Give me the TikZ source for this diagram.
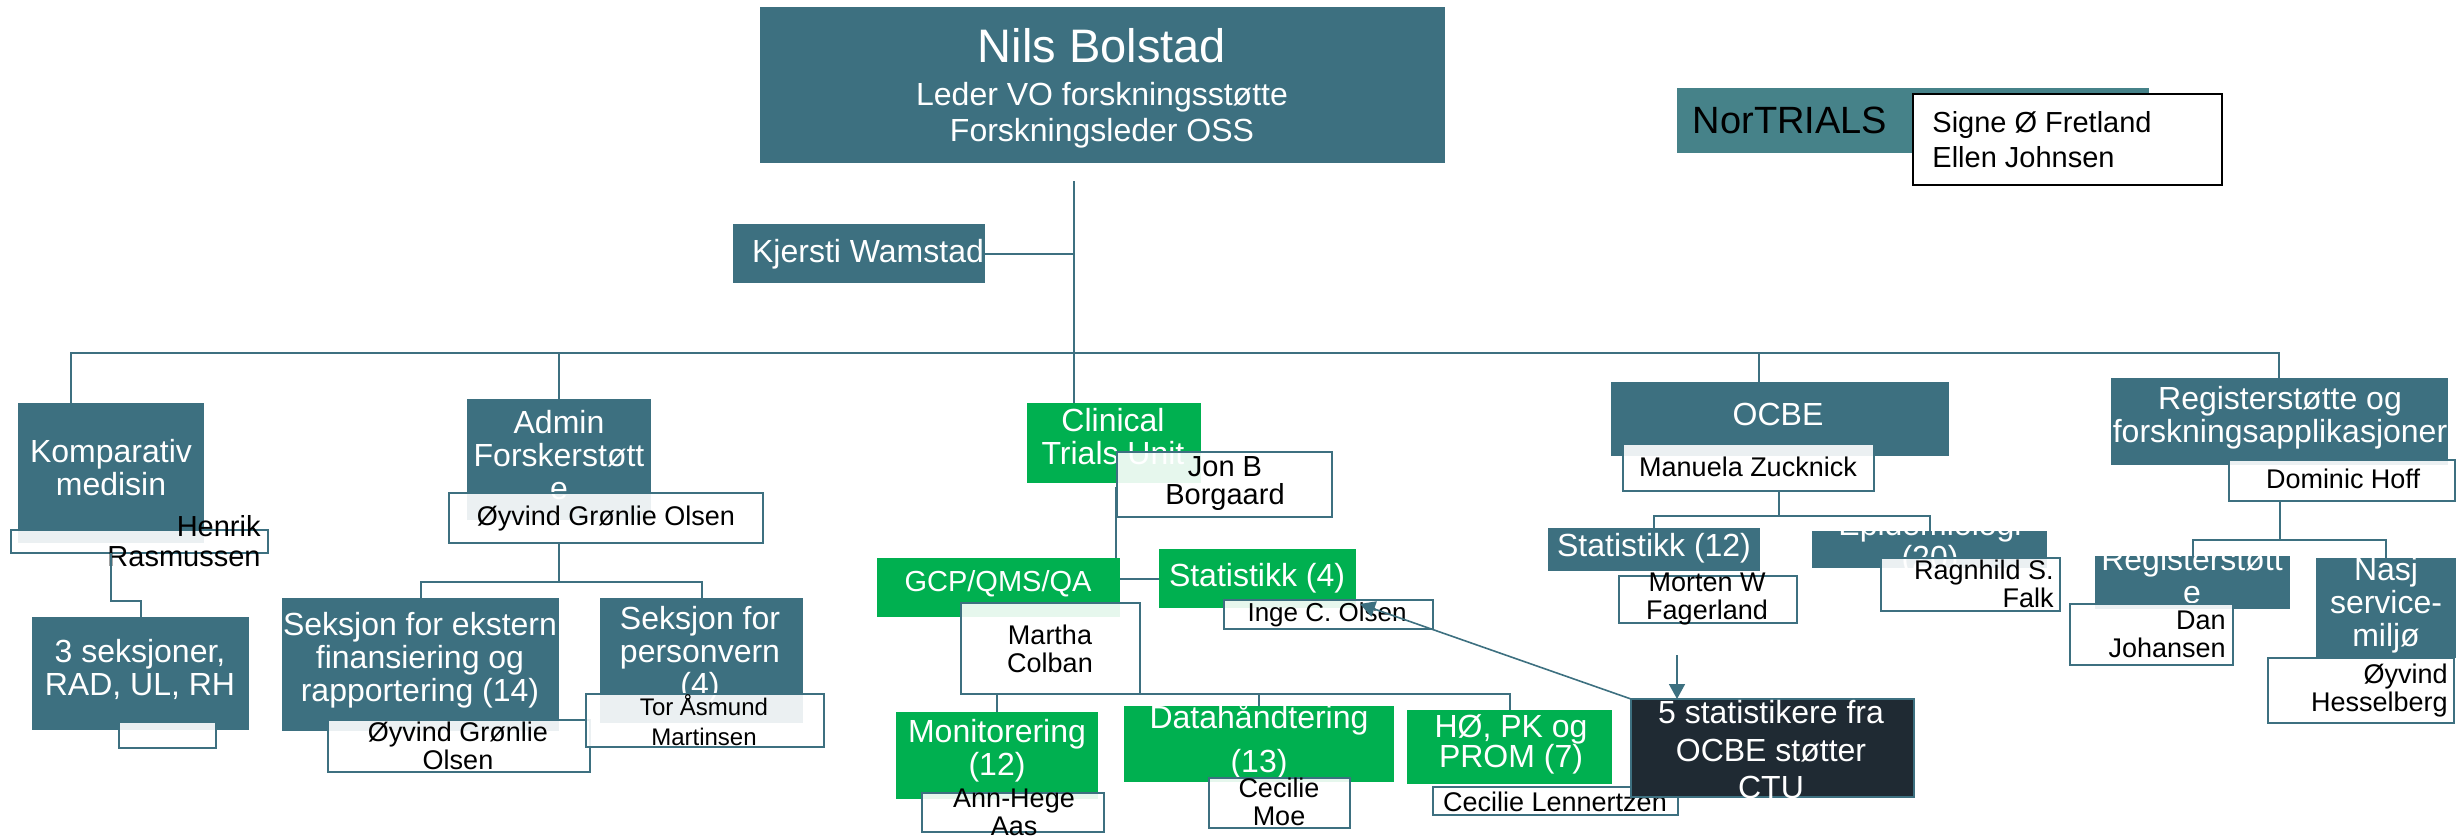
\documentclass[tikz,border=0pt]{standalone}
\usepackage{fontspec}
\setmainfont{Liberation Sans}
\usetikzlibrary{arrows.meta}
\definecolor{tealA}{HTML}{3D7080}
\definecolor{tealB}{HTML}{468289}
\definecolor{grnA}{HTML}{00B050}
\definecolor{darkA}{HTML}{1F2A33}
\newcommand\bx[6]{\node[#6, minimum width={(#4-#2)*0.5pt}, minimum height={(#5-#3)*0.5pt}] (#1) at ({(#2+#4)/2},{(#3+#5)/2}) {};}
\tikzset{
  unitbox/.style={fill=tealA, inner sep=0pt, outer sep=0pt},
  nortbox/.style={fill=tealB, inner sep=0pt, outer sep=0pt},
  greenbox/.style={fill=grnA, inner sep=0pt, outer sep=0pt},
  darkbox/.style={fill=darkA, draw=tealA, line width=0.7pt, inner sep=0pt, outer sep=0pt},
  namebox/.style={fill=white, fill opacity=0.9, draw=tealA, draw opacity=1, line width=1pt, inner sep=0pt, outer sep=0pt},
  blackbox/.style={fill=white, draw=black, line width=1pt, inner sep=0pt, outer sep=0pt},
  sec/.style={text=white, align=center, inner sep=0pt, font=\fontsize{16}{16.5}\selectfont},
  nm/.style={text=black, align=center, inner sep=0pt, font=\fontsize{13.5}{14}\selectfont},
  conn/.style={draw=tealA, line width=1pt},
  arr/.style={draw=tealA, line width=0.8pt, -{Triangle[length=7.5pt,width=8pt]}, fill=tealA},
}
\begin{document}
\begin{tikzpicture}[x=0.5pt,y=-0.5pt]
\useasboundingbox (0,0) rectangle (2456,836);
% ---- top ----
\bx{nils}{760}{7}{1445}{163}{unitbox}
\node[sec, font=\fontsize{23.5}{24}\selectfont] (nilsA) at (1102,46) {Nils Bolstad};
\node[sec] (nilsB) at (1102,97) {Leder VO forskningsstøtte};
\node[sec] (nilsC) at (1102,133) {Forskningsleder OSS};
\bx{kjersti}{733}{224}{985}{283}{unitbox}
\node[sec] (kjersti-t) at (868,254) {Kjersti Wamstad};
\bx{nort}{1677}{88}{2149}{153}{nortbox}
\node[sec, text=black, font=\fontsize{19}{20}\selectfont] (nort-t) at (1790,120) {NorTRIALS};
\bx{signe}{1913}{94}{2222}{185}{blackbox}
\node[nm, align=left, anchor=west, font=\fontsize{14.5}{17.5}\selectfont] (signe-t) at (1932,140) {Signe Ø Fretland\\Ellen Johnsen};
% ---- level 2 boxes ----
\bx{komp}{18}{403}{204}{543}{unitbox}
\node[sec] (komp-t) at (111,468) {Komparativ\\medisin};
\bx{admin}{467}{399}{651}{520}{unitbox}
\node[sec] (admin-t) at (559,455) {Admin\\Forskerstøtt\\e};
\bx{ctu}{1027}{403}{1201}{483}{greenbox}
\node[sec] (ctu-t) at (1113,437) {Clinical\\Trials Unit};
\bx{ocbe}{1611}{382}{1949}{456}{unitbox}
\node[sec] (ocbe-t) at (1778,414) {OCBE};
\bx{reg}{2111}{378}{2448}{465}{unitbox}
\node[sec] (reg-t) at (2280,418) {Registerstøtte og\\forskningsapplikasjoner};
% ---- level 3 boxes ----
\bx{tre}{32}{617}{249}{730}{unitbox}
\node[sec] (tre-t) at (140,669) {3 seksjoner,\\RAD, UL, RH};
\bx{ekst}{282}{598}{559}{731}{unitbox}
\node[sec] (ekst-t) at (420,660) {Seksjon for ekstern\\finansiering og\\rapportering (14)};
\bx{pv}{600}{598}{803}{723}{unitbox}
\node[sec] (pv-t) at (700,654) {Seksjon for\\personvern\\(4)};
\bx{gcp}{877}{558}{1120}{617}{greenbox}
\node[sec, font=\fontsize{14.5}{15}\selectfont] (gcp-t) at (998,584) {GCP/QMS/QA};
\bx{stat4}{1159}{549}{1356}{608}{greenbox}
\node[sec] (stat4-t) at (1257,578) {Statistikk (4)};
\bx{mon}{896}{712}{1098}{799}{greenbox}
\node[sec] (mon-t) at (997,751) {Monitorering\\(12)};
\bx{data}{1124}{706}{1394}{782}{greenbox}
\node[sec] (data-t) at (1259,741) {Datahåndtering\\[5.5pt](13)};
\bx{hoe}{1407}{710}{1612}{784}{greenbox}
\node[sec, font=\fontsize{16}{15}\selectfont] (hoe-t) at (1511,744) {HØ, PK og\\PROM (7)};
\bx{stat12}{1548}{528}{1760}{571}{unitbox}
\node[sec] (stat12-t) at (1654,548) {Statistikk (12)};
\bx{epi}{1812}{531}{2047}{568}{unitbox}
\node[sec] (epi-t) at (1930,544) {Epidemiologi\\(20)};
\bx{regst}{2095}{556}{2290}{609}{unitbox}
\node[sec] (regst-t) at (2192,576) {Registerstøtt\\e};
\bx{nasj}{2316}{558}{2456}{658}{unitbox}
\node[sec] (nasj-t) at (2386,605) {Nasj\\service-\\miljø};
% ---- name boxes ----
\bx{henrik}{11}{530}{268}{553}{namebox}
\node[nm, align=right, anchor=east, font=\fontsize{14.5}{15}\selectfont] (henrik-t) at (261,541) {Henrik\\Rasmussen};
\bx{trebox}{119}{722}{216}{748}{namebox}
\bx{oyv1}{449}{493}{763}{543}{namebox}
\node[nm] (oyv1-t) at (606,519) {Øyvind Grønlie Olsen};
\bx{oyv2}{328}{720}{590}{772}{namebox}
\node[nm] (oyv2-t) at (458,746) {Øyvind Grønlie\\Olsen};
\bx{tor}{586}{694}{824}{747}{namebox}
\node[nm, font=\fontsize{12}{15}\selectfont] (tor-t) at (704,720) {Tor Åsmund\\Martinsen};
\bx{jon}{1117}{452}{1332}{517}{namebox}
\node[nm, font=\fontsize{14.5}{14}\selectfont] (jon-t) at (1225,484) {Jon B\\Borgaard};
\bx{inge}{1224}{600}{1433}{629}{namebox}
\node[nm, font=\fontsize{13}{14}\selectfont] (inge-t) at (1327,615) {Inge C. Olsen};
\bx{martha}{961}{603}{1140}{694}{namebox}
\node[nm] (martha-t) at (1050,649) {Martha\\Colban};
\bx{ann}{922}{793}{1104}{832}{namebox}
\node[nm] (ann-t) at (1014,812) {Ann-Hege\\Aas};
\bx{cmoe}{1209}{778}{1350}{828}{namebox}
\node[nm] (cmoe-t) at (1279,802) {Cecilie\\Moe};
\bx{clen}{1433}{787}{1678}{815}{namebox}
\node[nm] (clen-t) at (1555,802) {Cecilie Lennertzen};
\bx{manuela}{1623}{444}{1874}{491}{namebox}
\node[nm] (manuela-t) at (1748,467) {Manuela Zucknick};
\bx{morten}{1619}{576}{1797}{623}{namebox}
\node[nm] (morten-t) at (1707,599) {Morten W\\Fagerland};
\bx{ragn}{1881}{558}{2060}{611}{namebox}
\node[nm, align=right, anchor=east] (ragn-t) at (2054,584) {Ragnhild S.\\Falk};
\bx{dominic}{2229}{460}{2455}{501}{namebox}
\node[nm] (dominic-t) at (2343,479) {Dominic Hoff};
\bx{dan}{2070}{604}{2233}{665}{namebox}
\node[nm, align=right, anchor=east] (dan-t) at (2226,634) {Dan\\Johansen};
\bx{hess}{2268}{658}{2454}{723}{namebox}
\node[nm, align=right, anchor=east] (hess-t) at (2448,691) {Øyvind\\Hesselberg};
% ---- dark box ----
\bx{five}{1631}{699}{1914}{797}{darkbox}
\node[sec, font=\fontsize{16}{18.75}\selectfont] (five-t) at (1771,750) {5 statistikere fra\\OCBE støtter\\CTU};
% ---- connectors ----
\coordinate (hub) at (1074,181);
\coordinate (bL) at (71,353);
\coordinate (bR) at (2279,353);
\coordinate (ocdrop) at (1759,353);
\draw[conn] (hub) -- (hub |- ctu.north);
\draw[conn] (kjersti.east) -- (kjersti.east -| hub);
\draw[conn] (bL |- komp.north) -- (bL) -- (bR) -- (bR |- reg.north);
\draw[conn] (admin.north |- bL) -- (admin.north);
\draw[conn] (ocdrop) -- (ocdrop |- ocbe.north);
\coordinate (k1) at (111,601);
\draw[conn] (k1 |- henrik.south) -- (k1) -| (tre.north);
\coordinate (a1) at (559,582);
\coordinate (a2) at (702,582);
\draw[conn] (a1 |- oyv1.south) -- (a1);
\draw[conn] (ekst.north) |- (a2) -- (a2 |- pv.north);
\coordinate (c1) at (1116,487);
\draw[conn] (c1) -- (c1 |- gcp.north);
\draw[conn] (gcp.east |- stat4.west) -- (stat4.west);
\draw[conn] (mon.north) |- (hoe.north |- martha.south) -- (hoe.north);
\draw[conn] (data.north) -- (data.north |- martha.south);
\coordinate (o1) at (1779,516);
\draw[conn] (o1 |- manuela.south) -- (o1);
\draw[conn] (stat12.north) |- (epi.north |- o1) -- (epi.north);
\coordinate (r1) at (2280,540);
\draw[conn] (r1 |- dominic.south) -- (r1);
\draw[conn] (regst.north) |- (nasj.north |- r1) -- (nasj.north);
% ---- arrows ----
\coordinate (ar1) at (1677,655);
\draw[arr] (ar1) -- (ar1 |- five.north);
\coordinate (ingetip) at (1360,604);
\draw[arr] (five.north west) -- (ingetip);
\end{tikzpicture}
\end{document}
